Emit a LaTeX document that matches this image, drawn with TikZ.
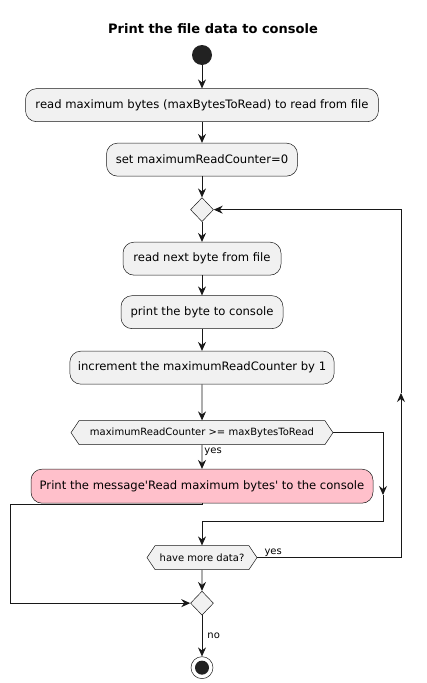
\documentclass[tikz,border=0pt]{standalone}
\usepackage{fontspec}
\setmainfont{DejaVu Sans}
\usepackage{tikz}
\usetikzlibrary{positioning,arrows.meta,shapes.geometric,shapes.symbols}
\tikzset{>=Stealth}

\begin{document}
\begin{tikzpicture}[
  thick,
  node distance=20pt
]

% Colours.
\definecolor{cLine}{RGB}{24,24,24}
\definecolor{cAct}{RGB}{241,241,241}
\definecolor{cPink}{RGB}{255,192,203}
\definecolor{cDot}{RGB}{34,34,34}

% Styles.
\tikzset{
  act/.style={rectangle, rounded corners=11pt, draw=cLine, line width=0.5pt, fill=cAct,
    minimum height=33pt, inner xsep=8pt, font=\fontsize{11.6}{13}\selectfont},
  actPink/.style={act, fill=cPink},
  hexa/.style={signal, signal to=east and west, signal pointer angle=112, draw=cLine,
    line width=0.5pt, fill=cAct, minimum height=24pt, inner xsep=2pt,
    font=\fontsize{10}{12}\selectfont},
  merge/.style={diamond, draw=cLine, line width=0.5pt, fill=cAct, inner sep=0pt,
    minimum width=23pt, minimum height=24pt},
  flow/.style={draw=cLine, line width=0.9pt, -{Stealth[length=9pt,width=8pt,inset=3pt]}},
  lbl/.style={font=\fontsize{10}{12}\selectfont, inner sep=1pt}
}

\useasboundingbox (0,0) rectangle (426pt,-683pt);

% Title.
\node (title) at (213pt,-29pt) {\fontsize{13}{15}\selectfont\bfseries Print the file data to console};

% Start.
\node (start) [circle, fill=cDot, minimum size=20pt, inner sep=0pt] at (202pt,-55pt) {};

% Main column.
\node (readMax) [act, minimum width=353pt, below=23pt of start] {read maximum bytes (maxBytesToRead) to read from file};
\node (setCnt)  [act, minimum width=191pt, below=21pt of readMax] {set maximumReadCounter=0};
\node (loopTop) [merge, below=21pt of setCnt] {};
\node (readNext)[act, minimum width=158pt, below=of loopTop] {read next byte from file};
\node (printB)  [act, minimum width=162pt, below=of readNext] {print the byte to console};
\node (incCnt)  [act, minimum width=237pt, below=22pt of printB] {increment the maximumReadCounter by 1};
\node (chkMax)  [hexa, minimum width=262pt, below=36pt of incCnt] {maximumReadCounter >= maxBytesToRead};
\node (msgMax)  [actPink, minimum width=342pt, minimum height=34pt, below=24pt of chkMax] {Print the message\textquotesingle Read maximum bytes\textquotesingle{} to the console};
\node (hasMore) [hexa, minimum width=110pt, below=42pt of msgMax] {have more data?};
\node (loopEnd) [merge, below=21pt of hasMore] {};

% Stop.
\node (stop)    [circle, draw=cLine, line width=0.5pt, fill=white, minimum size=22pt, inner sep=0pt, below=41pt of loopEnd] {};
\node (stopDot) [circle, fill=cDot, minimum size=14pt, inner sep=0pt] at (stop) {};

% Straight arrows.
\foreach \a/\b in {start/readMax, readMax/setCnt, setCnt/loopTop, loopTop/readNext,
                   readNext/printB, printB/incCnt, incCnt/chkMax, hasMore/loopEnd}{
  \draw[flow] (\a) -- (\b);
}
\draw[flow] (chkMax) -- (msgMax) node[lbl, pos=0.05, anchor=north west, xshift=1pt] {yes};
\draw[flow] (loopEnd) -- (stop) node[lbl, midway, right, xshift=4pt] {no};

% Bends.
\coordinate (noMid)   at (383pt,-495pt);
\coordinate (noJoin)  at (202pt,-521pt);
\coordinate (backMid) at (401pt,-393pt);
\coordinate (pinkL)   at (10pt,-504pt);

\draw[flow] (chkMax.east) -| (noMid);
\draw[flow] (noMid) |- (noJoin) -- (hasMore.north);
\draw[flow] (hasMore.east) -| (backMid) node[lbl, pos=0.02, anchor=south west] {yes};
\draw[flow] (backMid) |- (loopTop.east);
\draw[flow] (msgMax.south) |- (pinkL) |- (loopEnd.west);
\end{tikzpicture}
\end{document}
